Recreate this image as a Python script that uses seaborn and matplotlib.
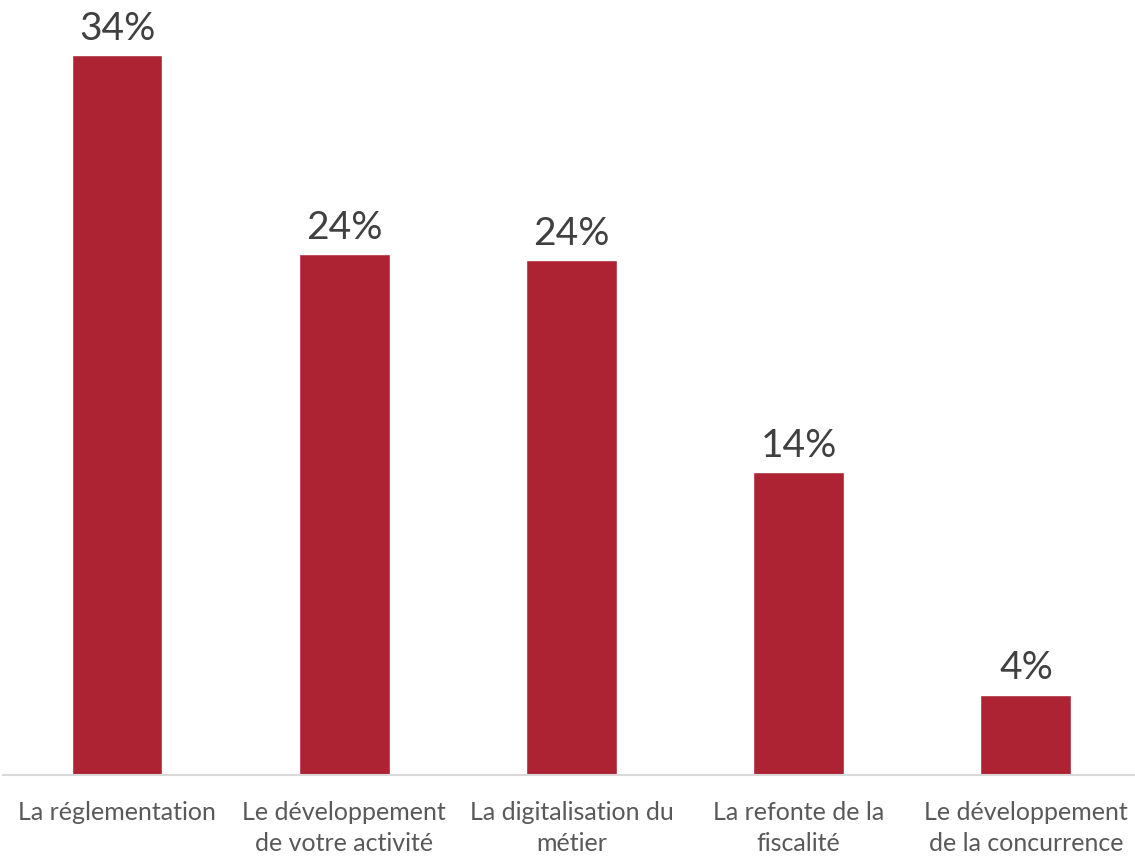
import matplotlib
matplotlib.use('Agg')
import matplotlib.pyplot as plt
import seaborn as sns
import pandas as pd

categories = [
    "La réglementation",
    "Le développement\nde votre activité",
    "La digitalisation du\nmétier",
    "La refonte de la\nfiscalité",
    "Le développement\nde la concurrence",
]
values = [34.0, 24.6, 24.3, 14.3, 3.8]
value_labels = ["34%", "24%", "24%", "14%", "4%"]

bar_color = "#AD2334"
text_color = "#404040"

sns.set_theme(style="white")
plt.rcParams['font.family'] = ['Lato', 'DejaVu Sans']

df = pd.DataFrame({"categorie": categories, "valeur": values})

fig = plt.figure(figsize=(11.35, 8.57), dpi=100)
ax = fig.add_axes([0.003, 0.0957, 1.001, 0.9043])

sns.barplot(data=df, x="categorie", y="valeur", color=bar_color,
            width=0.4, saturation=1, ax=ax)

ax.set_xlim(-0.5, 4.5)
ax.set_ylim(0, 36.6)
ax.bar_label(ax.containers[0], labels=value_labels, padding=6,
             fontsize=28, color=text_color)

for side in ["top", "right", "left"]:
    ax.spines[side].set_visible(False)
ax.spines["bottom"].set_color("#D9D9D9")
ax.spines["bottom"].set_linewidth(1.5)

ax.set_yticks([])
ax.set_xlabel("")
ax.set_ylabel("")
ax.tick_params(axis="x", length=0, pad=19, labelsize=18, labelcolor="#595959")
for lbl in ax.get_xticklabels():
    lbl.set_linespacing(1.4)

fig.savefig("out.png", dpi=100)
